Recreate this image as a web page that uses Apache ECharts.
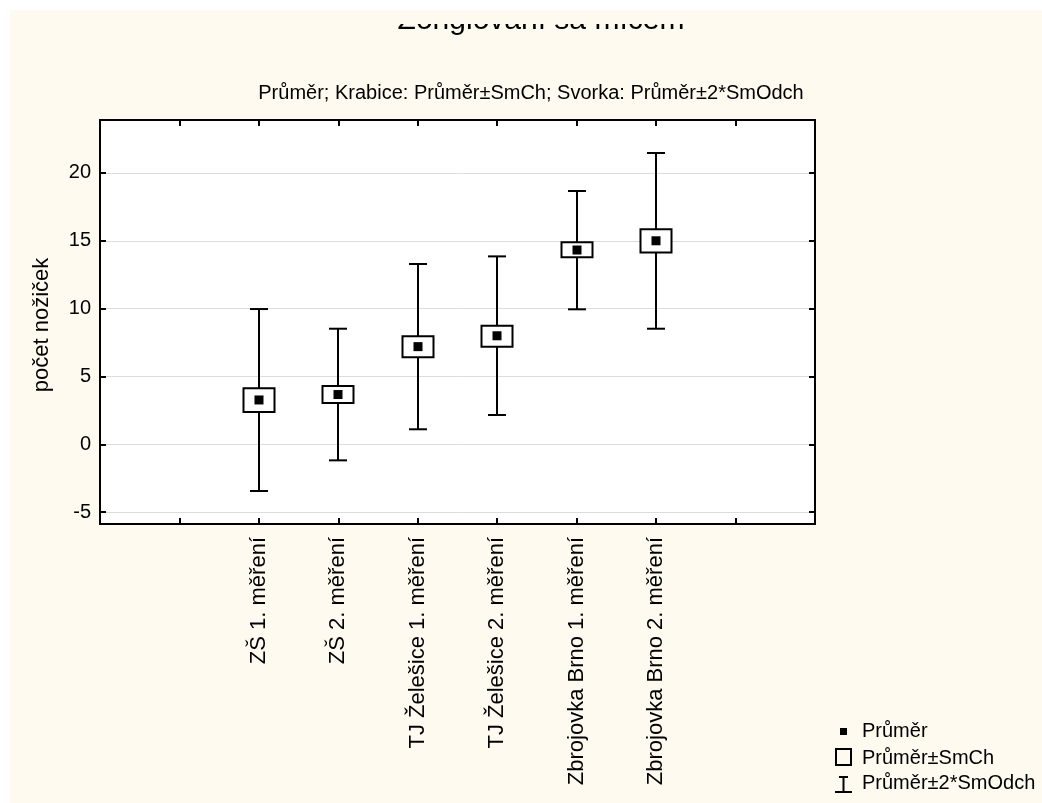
<!DOCTYPE html>
<html><head><meta charset="utf-8">
<script src="https://cdn.jsdelivr.net/npm/echarts@6/dist/echarts.min.js"></script>
<style>html,body{margin:0;padding:0;background:#FFFAF0;overflow:hidden}#c{width:1042px;height:803px}</style>
</head><body><div id="c"></div>
<script>
const categories = ['ZŠ 1. měření','ZŠ 2. měření','TJ Želešice 1. měření','TJ Želešice 2. měření','Zbrojovka Brno 1. měření','Zbrojovka Brno 2. měření'];
const means = [3.27, 3.67, 7.20, 8.00, 14.32, 15.00];
const boxLow = [2.38, 3.04, 6.41, 7.19, 13.78, 14.13];
const boxHigh = [4.13, 4.30, 7.96, 8.74, 14.89, 15.85];
const whiskerLow = [-3.44, -1.18, 1.11, 2.16, 9.95, 8.52];
const whiskerHigh = [9.97, 8.52, 13.29, 13.85, 18.67, 21.47];
const yTickLabels = [-5, 0, 5, 10, 15, 20];
const titleText = 'Žonglování sa míčem';
const subtitleText = 'Průměr; Krabice: Průměr±SmCh; Svorka: Průměr±2*SmOdch';
const yName = 'počet nožiček';
const legendLabels = ['Průměr', 'Průměr±SmCh', 'Průměr±2*SmOdch'];

const FONT = '"Liberation Sans", Arial, sans-serif';
const CREAM = '#FFFAF0';
const xOffset = 2;
const data = categories.map((c, i) => [i + xOffset, means[i], boxLow[i], boxHigh[i], whiskerLow[i], whiskerHigh[i]]);

function renderItem(params, api) {
  const x = api.value(0);
  const m = api.coord([x, api.value(1)]);
  const bl = api.coord([x, api.value(2)]);
  const bh = api.coord([x, api.value(3)]);
  const wl = api.coord([x, api.value(4)]);
  const wh = api.coord([x, api.value(5)]);
  const cx = Math.round(m[0]);
  const ls = {stroke: '#000', lineWidth: 2};
  return {type: 'group', children: [
    {type: 'line', shape: {x1: cx, y1: wh[1], x2: cx, y2: wl[1]}, style: ls},
    {type: 'line', shape: {x1: cx - 9, y1: wh[1], x2: cx + 9, y2: wh[1]}, style: ls},
    {type: 'line', shape: {x1: cx - 9, y1: wl[1], x2: cx + 9, y2: wl[1]}, style: ls},
    {type: 'rect', shape: {x: cx - 15.5, y: bh[1], width: 31, height: bl[1] - bh[1]}, style: {fill: '#fff', stroke: '#000', lineWidth: 2}},
    {type: 'rect', shape: {x: cx - 4.5, y: m[1] - 4.5, width: 9, height: 9}, style: {fill: '#000'}}
  ]};
}

const tickStyle = {show: true, inside: true, length: 6, lineStyle: {color: '#000', width: 2}};
const lineStyle = {show: true, onZero: false, lineStyle: {color: '#000', width: 2}};
const yMin = -5.87, yMax = 23.9;

const chart = echarts.init(document.getElementById('c'), null, {renderer: 'canvas'});
chart.setOption({
  backgroundColor: CREAM,
  animation: false,
  grid: {left: 100, right: 227, top: 120, bottom: 279, show: true, backgroundColor: '#fff', borderColor: '#000', borderWidth: 2},
  xAxis: [
    {type: 'value', min: 0, max: 9, interval: 1, position: 'bottom', axisLine: lineStyle, axisTick: tickStyle, splitLine: {show: false},
      axisLabel: {rotate: 90, margin: 13, fontSize: 22, color: '#000', fontFamily: FONT,
        formatter: v => categories[v - xOffset] || ''}},
    {type: 'value', min: 0, max: 9, interval: 1, position: 'top', axisLine: lineStyle, axisTick: tickStyle, splitLine: {show: false}, axisLabel: {show: false}}
  ],
  yAxis: [
    {type: 'value', min: yMin, max: yMax, splitNumber: 5, position: 'left', axisLine: lineStyle, axisTick: tickStyle,
      splitLine: {show: true, lineStyle: {color: '#dcdcdc', width: 1}},
      axisLabel: {margin: 9, fontSize: 20, color: '#000', fontFamily: FONT,
        formatter: v => yTickLabels.indexOf(Math.round(v * 1000) / 1000) >= 0 ? String(Math.round(v)) : ''}},
    {type: 'value', min: yMin, max: yMax, splitNumber: 5, position: 'right', axisLine: lineStyle, axisTick: tickStyle, splitLine: {show: false}, axisLabel: {show: false}}
  ],
  graphic: [
    {type: 'text', x: 541, y: 20.6, z: 100, z2: 1, style: {text: titleText, font: '30px ' + FONT, fill: '#000', align: 'center', verticalAlign: 'middle'}},
    {type: 'rect', z: 110, z2: 50, shape: {x: 10, y: 10, width: 1032, height: 14}, style: {fill: CREAM, stroke: null}},
    {type: 'rect', z: 120, z2: 60, shape: {x: 0, y: 0, width: 1042, height: 10}, style: {fill: '#fff', stroke: null}},
    {type: 'rect', z: 120, z2: 60, shape: {x: 0, y: 0, width: 10, height: 803}, style: {fill: '#fff', stroke: null}},
    {type: 'text', x: 531, y: 93, z: 100, style: {text: subtitleText, font: '20px ' + FONT, fill: '#000', align: 'center', verticalAlign: 'middle'}},
    {type: 'text', x: 42, y: 325, rotation: Math.PI / 2, z: 100, style: {text: yName, font: '22px ' + FONT, fill: '#000', align: 'center', verticalAlign: 'middle'}},
    {type: 'rect', z: 100, shape: {x: 840, y: 728, width: 7, height: 7}, style: {fill: '#000'}},
    {type: 'text', x: 862, y: 731, z: 100, style: {text: legendLabels[0], font: '20px ' + FONT, fill: '#000', align: 'left', verticalAlign: 'middle'}},
    {type: 'rect', z: 100, shape: {x: 836, y: 749, width: 15, height: 16}, style: {fill: 'none', stroke: '#000', lineWidth: 2}},
    {type: 'text', x: 862, y: 758, z: 100, style: {text: legendLabels[1], font: '20px ' + FONT, fill: '#000', align: 'left', verticalAlign: 'middle'}},
    {type: 'line', z: 100, shape: {x1: 843.5, y1: 777, x2: 843.5, y2: 792}, style: {stroke: '#000', lineWidth: 2}},
    {type: 'line', z: 100, shape: {x1: 839, y1: 777, x2: 848, y2: 777}, style: {stroke: '#000', lineWidth: 2}},
    {type: 'line', z: 100, shape: {x1: 835, y1: 792, x2: 852, y2: 792}, style: {stroke: '#000', lineWidth: 2}},
    {type: 'text', x: 862, y: 783, z: 100, style: {text: legendLabels[2], font: '20px ' + FONT, fill: '#000', align: 'left', verticalAlign: 'middle'}}
  ],
  series: [{type: 'custom', renderItem: renderItem, data: data, xAxisIndex: 0, yAxisIndex: 0, z: 3, clip: false}]
});
</script></body></html>
